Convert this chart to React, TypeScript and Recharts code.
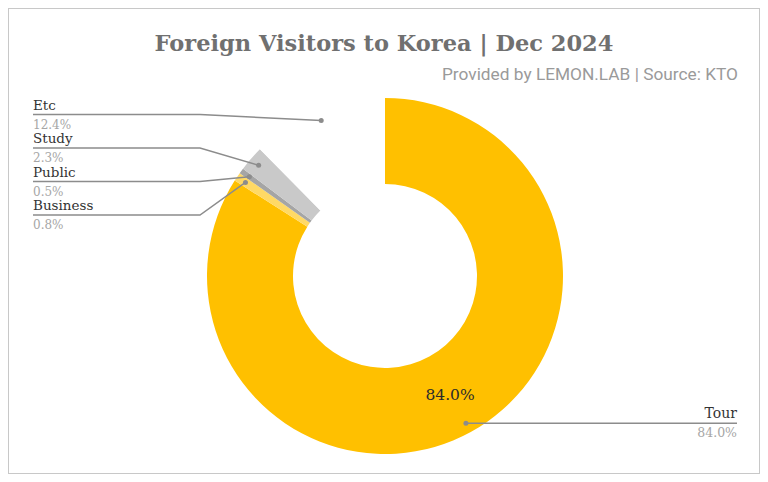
import React from 'react';
import { PieChart, Pie, Cell } from 'recharts';

const categories = ['Tour', 'Business', 'Public', 'Study', 'Etc'];
const shares = [84.0, 0.8, 0.5, 2.3, 12.4];
const colors = ['#FFC000', '#FFD965', '#A5A5A5', '#C9C9C9', '#FFFFFF'];

const data = categories.map((name, i) => ({ name, value: shares[i] }));

const RADIAN = Math.PI / 180;
const serif = '"DejaVu Serif", "Liberation Serif", serif';

const renderLabel = (props: any) => {
    const { cx, cy, midAngle, innerRadius, outerRadius, index, name, value } = props;
    const cos = Math.cos(-midAngle * RADIAN);
    const sin = Math.sin(-midAngle * RADIAN);
    const dotX = cx + (outerRadius - 10) * cos;
    const dotY = cy + (outerRadius - 10) * sin;
    const pct = `${Number(value).toFixed(1)}%`;

    if (index === 0) {
        const midR = (innerRadius + outerRadius) / 2;
        const endX = 728;
        return (
            <g>
                <text x={cx + midR * cos} y={cy + midR * sin + 6} textAnchor="middle" fontFamily={serif} fontSize={15.5} fill="#2b2b2b">{pct}</text>
                <line x1={dotX} y1={dotY} x2={endX} y2={dotY} stroke="#8c8c8c" strokeWidth={1.5} />
                <circle cx={dotX} cy={dotY} r={2.5} fill="#8c8c8c" />
                <text x={endX} y={dotY - 5} textAnchor="end" fontFamily={serif} fontSize={14} fill="#333">{name}</text>
                <text x={endX} y={dotY + 14} textAnchor="end" fontFamily={serif} fontSize={12.5} fill="#a6a6a6">{pct}</text>
            </g>
        );
    }

    // left side labels stacked top to bottom: Etc, Study, Public, Business
    const order = categories.length - 1 - index;
    const lineY = 105.5 + order * 33.5;
    const startX = 24;
    const elbowX = 191;
    return (
        <g>
            <polyline points={`${startX},${lineY} ${elbowX},${lineY} ${dotX},${dotY}`} fill="none" stroke="#8c8c8c" strokeWidth={1.5} />
            <circle cx={dotX} cy={dotY} r={2.5} fill="#8c8c8c" />
            <text x={startX} y={lineY - 5} fontFamily={serif} fontSize={13.5} fill="#333">{name}</text>
            <text x={startX} y={lineY + 14} fontFamily={serif} fontSize={12} fill="#a6a6a6">{pct}</text>
        </g>
    );
};

const App: React.FC = () => {
    return (
        <div style={{ position: 'relative', width: 750, height: 464, border: '1px solid #c8c8c8', background: '#fff' }}>
            <svg width={750} height={90} style={{ position: 'absolute', left: 0, top: 0 }}>
                <text x={375} y={42} textAnchor="middle" fontFamily={serif} fontWeight="bold" fontSize={22.5} fill="#707070">
                    Foreign Visitors to Korea | Dec 2024
                </text>
                <text x={729} y={71} textAnchor="end" fontFamily="Roboto, sans-serif" fontSize={17.3} fill="#9a9a9a">
                    Provided by LEMON.LAB | Source: KTO
                </text>
            </svg>
            <PieChart width={750} height={464} margin={{ top: 0, right: 0, bottom: 0, left: 0 }} style={{ position: 'absolute', left: 0, top: 0 }}>
                <Pie
                    data={data}
                    dataKey="value"
                    nameKey="name"
                    cx={376}
                    cy={267}
                    innerRadius={92}
                    outerRadius={178}
                    startAngle={90}
                    endAngle={-270}
                    stroke="none"
                    label={renderLabel}
                    labelLine={false}
                    isAnimationActive={false}
                >
                    {data.map((d, i) => (
                        <Cell key={d.name} fill={colors[i]} />
                    ))}
                </Pie>
            </PieChart>
        </div>
    );
};

export default App;
